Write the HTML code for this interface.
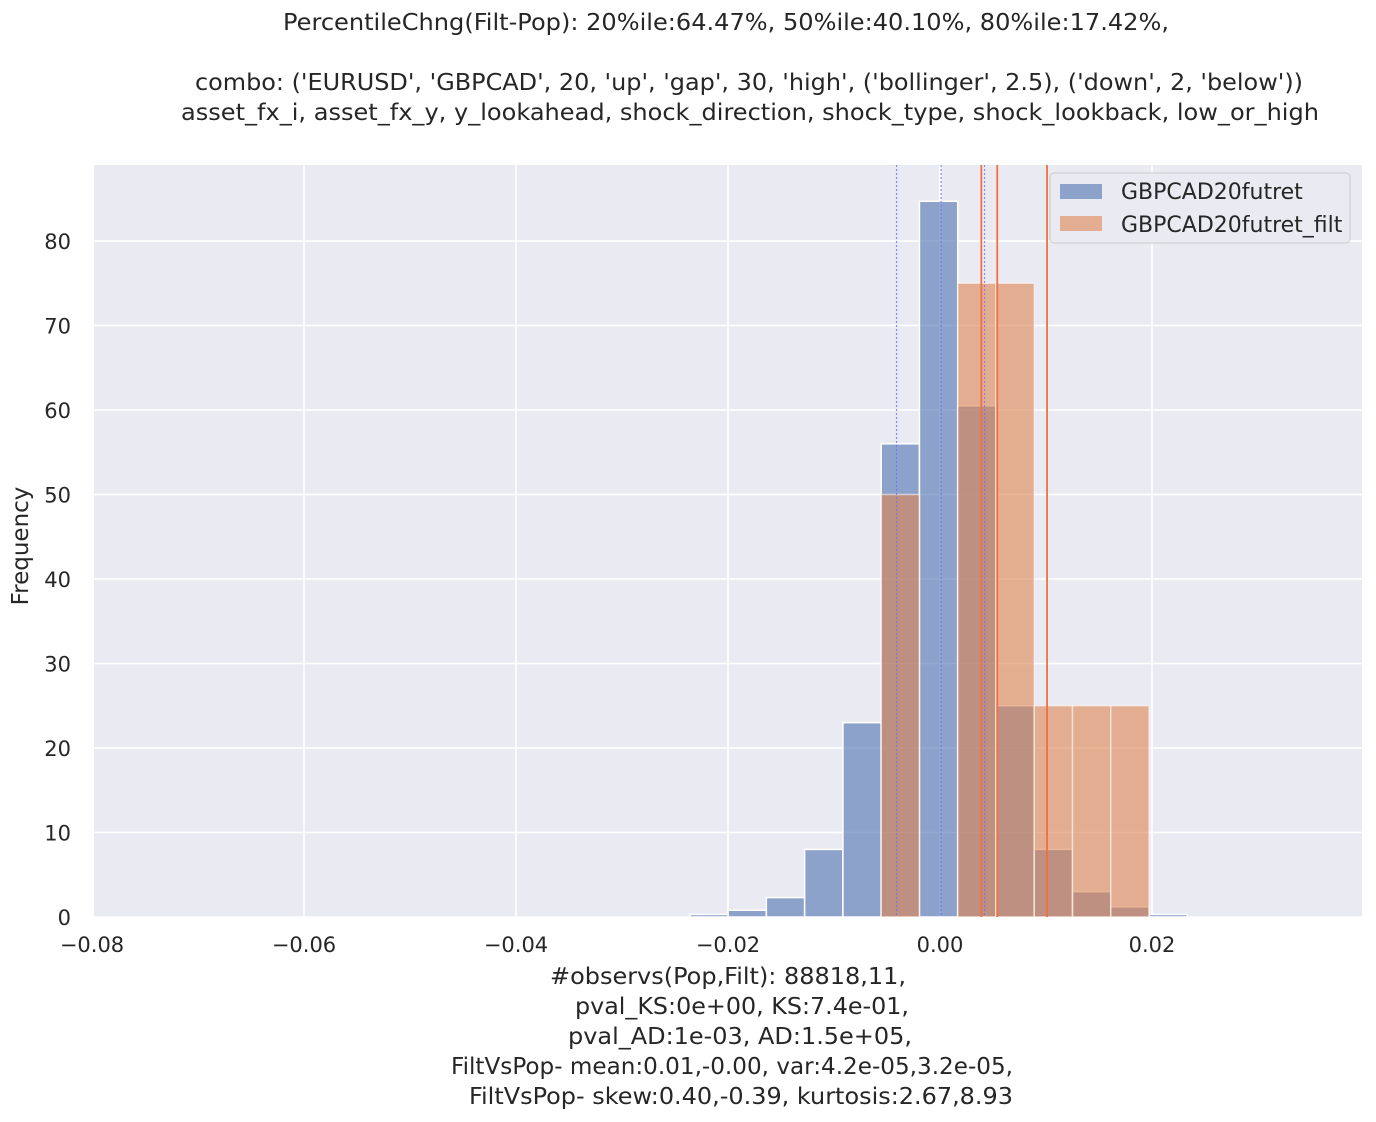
<!DOCTYPE html>
<html><head><meta charset="utf-8"><style>
body{margin:0;background:#fff;width:1376px;height:1118px;overflow:hidden;font-family:"DejaVu Sans","Liberation Sans",sans-serif;color:#262626}
svg text{font-family:"DejaVu Sans","Liberation Sans",sans-serif;fill:#262626}
</style></head><body>
<svg id="chart" width="1376" height="1118">
<g font-size="23.5" text-anchor="middle">
<text x="726" y="30" textLength="886" lengthAdjust="spacingAndGlyphs">PercentileChng(Filt-Pop):  20%ile:64.47%, 50%ile:40.10%, 80%ile:17.42%,</text>
<text x="749" y="90" textLength="1108" lengthAdjust="spacingAndGlyphs">combo: ('EURUSD', 'GBPCAD', 20, 'up', 'gap', 30, 'high', ('bollinger', 2.5), ('down', 2, 'below'))</text>
<text x="750" y="120" textLength="1138" lengthAdjust="spacingAndGlyphs">asset_fx_i, asset_fx_y, y_lookahead, shock_direction, shock_type, shock_lookback, low_or_high</text>
</g>
<rect x="94" y="165" width="1268" height="752" fill="#eaeaf2"/>
<g id="grid"></g><g id="bars"></g><g id="vlines"></g><g id="ticks"></g>
<text transform="translate(28,546) rotate(-90)" text-anchor="middle" font-size="23">Frequency</text>
<g font-size="23.5" text-anchor="middle">
<text x="728" y="984" textLength="356" lengthAdjust="spacingAndGlyphs">#observs(Pop,Filt): 88818,11,</text>
<text x="742" y="1014" textLength="334" lengthAdjust="spacingAndGlyphs">pval_KS:0e+00, KS:7.4e-01,</text>
<text x="740" y="1044" textLength="344" lengthAdjust="spacingAndGlyphs">pval_AD:1e-03, AD:1.5e+05,</text>
<text x="732" y="1074" textLength="562" lengthAdjust="spacingAndGlyphs">FiltVsPop- mean:0.01,-0.00, var:4.2e-05,3.2e-05,</text>
<text x="741" y="1104" textLength="544" lengthAdjust="spacingAndGlyphs">FiltVsPop- skew:0.40,-0.39, kurtosis:2.67,8.93</text>
</g>
<g>
<rect x="1050" y="173" width="300" height="70" rx="4" fill="#eaeaf2" stroke="#cccccc"/>
<rect x="1060" y="184" width="42" height="15" fill="rgba(76,114,176,0.6)"/>
<text x="1121" y="199" font-size="22">GBPCAD20futret</text>
<rect x="1060" y="216" width="42" height="15" fill="rgba(221,132,82,0.6)"/>
<text x="1121" y="232" font-size="22">GBPCAD20futret_filt</text>
</g>
</svg>
<script>
const xTicks=[-0.08,-0.06,-0.04,-0.02,0.00,0.02];
const yTicks=[0,10,20,30,40,50,60,70,80];
const binStart=-0.0236, binWidth=0.00361;
const popCounts=[0.3,0.8,2.3,8,23,56,84.7,60.5,25,8,3,1.2,0.3];
const filtCounts=[0,0,0,0,0,50,0,75,75,25,25,25,0];
const popLines=[-0.0041,0.0001,0.0042];
const filtLines=[0.0039,0.0054,0.0101];
const X=v=>940+v*10600, Y=v=>917-v*8.45;
const NS="http://www.w3.org/2000/svg";
function mk(p,t,a){const e=document.createElementNS(NS,t);for(const k in a)e.setAttribute(k,a[k]);p.appendChild(e);return e;}
const grid=document.getElementById('grid'),ticks=document.getElementById('ticks');
xTicks.forEach(t=>{
 const l=mk(grid,'line',{x1:X(t),x2:X(t),y1:165,y2:917,stroke:'#fff','stroke-width':1.6});
 
 
 const tx=mk(ticks,'text',{x:X(t),y:952,'font-size':21,'text-anchor':'middle'});
 tx.textContent=(t<0?'\u2212':'')+Math.abs(t).toFixed(2);
 
 
});
yTicks.forEach(t=>{
 const l=mk(grid,'line',{x1:94,x2:1362,y1:Y(t),y2:Y(t),stroke:'#fff','stroke-width':1.6});
 
 
 const tx=mk(ticks,'text',{x:71,y:Y(t)+8,'font-size':21,'text-anchor':'end'});
 tx.textContent=t;
 
 
});
const bars=document.getElementById('bars');
popCounts.forEach((c,i)=>{if(c<=0)return;
 const x0=X(binStart+i*binWidth),x1=X(binStart+(i+1)*binWidth);
 const r=mk(bars,'rect',{x:x0,y:Y(c),width:x1-x0,height:Y(0)-Y(c),fill:'rgba(76,114,176,0.6)',stroke:'#fff','stroke-width':1.5});
 
 
});
filtCounts.forEach((c,i)=>{if(c<=0)return;
 const x0=X(binStart+i*binWidth),x1=X(binStart+(i+1)*binWidth);
 const r=mk(bars,'rect',{x:x0,y:Y(c),width:x1-x0,height:Y(0)-Y(c),fill:'rgba(221,132,82,0.6)',stroke:'rgba(255,255,255,0.5)','stroke-width':1.5});
 
 
});
const vl=document.getElementById('vlines');
popLines.forEach(v=>{
 const l=mk(vl,'line',{x1:X(v),x2:X(v),y1:165,y2:917,stroke:'#6f6ff0','stroke-width':1.2,'stroke-dasharray':'2,2',opacity:0.8});
 
 
});
filtLines.forEach(v=>{
 const l=mk(vl,'line',{x1:X(v),x2:X(v),y1:165,y2:917,stroke:'#f07040','stroke-width':1.8});
 
 
});
</script>
</body></html>
